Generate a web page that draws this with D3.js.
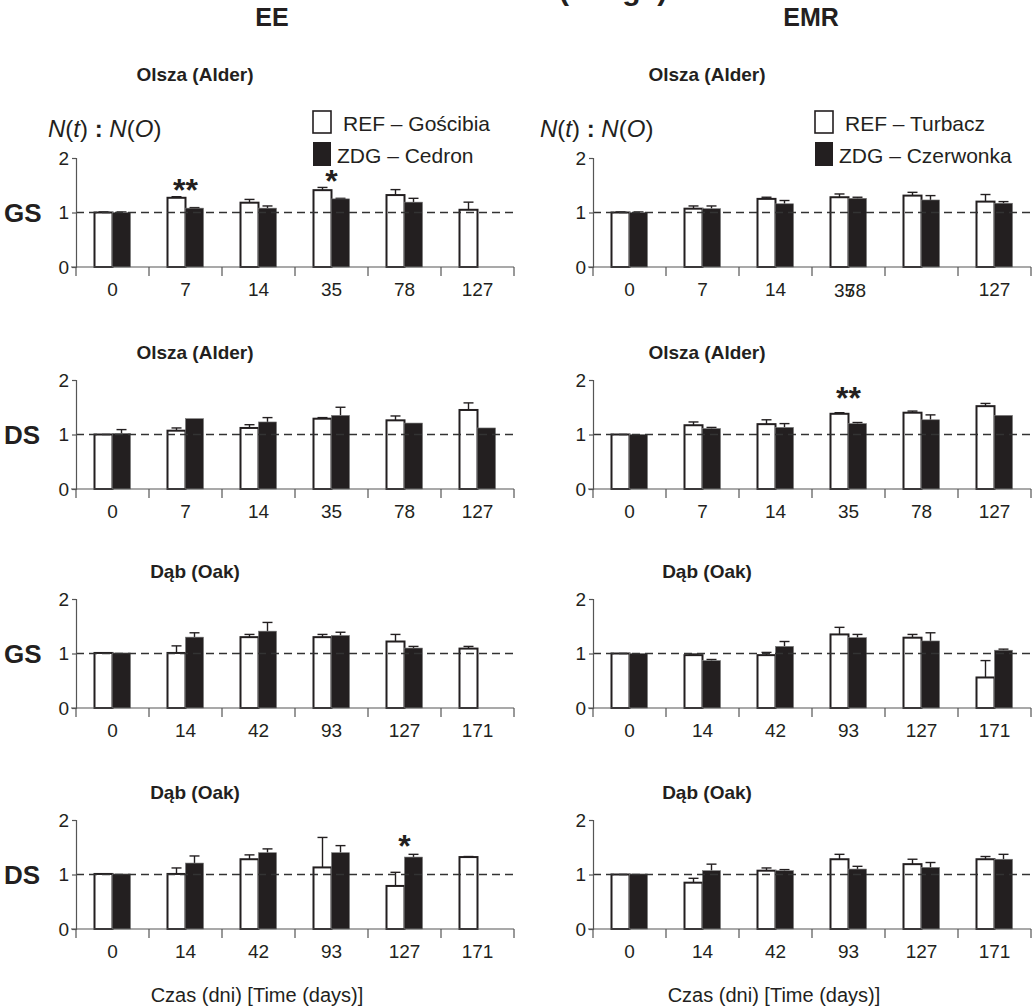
<!DOCTYPE html>
<html><head><meta charset="utf-8">
<script src="https://cdn.jsdelivr.net/npm/d3@7/dist/d3.min.js"></script>
<style>
body{margin:0;background:#fff;}
svg{display:block;font-family:"Liberation Sans",Arial,Helvetica,sans-serif;}
</style></head><body>
<svg id="chart" width="1032" height="1008"></svg>
<script>
// ---------- data ----------
const daysAlder = ["0", "7", "14", "35", "78", "127"];
const daysOak   = ["0", "14", "42", "93", "127", "171"];
const columnTitles = ["EE", "EMR"];
const rowLabels = ["GS", "DS", "GS", "DS"];
const rowTitles = ["Olsza (Alder)", "Olsza (Alder)", "Dąb (Oak)", "Dąb (Oak)"];
const legendEE  = ["REF – Gościbia", "ZDG – Cedron"];
const legendEMR = ["REF – Turbacz", "ZDG – Czerwonka"];
const yTicks = [0, 1, 2];

// EE, GS, Olsza
const eeGsAlderRef    = [1.00, 1.27, 1.18, 1.41, 1.32, 1.05];
const eeGsAlderRefErr = [0.01, 0.02, 0.06, 0.05, 0.10, 0.14];
const eeGsAlderZdg    = [1.00, 1.08, 1.08, 1.25, 1.19, null];
const eeGsAlderZdgErr = [0.01, 0.01, 0.04, 0.01, 0.07, null];
// EMR, GS, Olsza
const emrGsAlderRef    = [1.00, 1.07, 1.25, 1.28, 1.31, 1.20];
const emrGsAlderRefErr = [0.01, 0.05, 0.03, 0.06, 0.06, 0.13];
const emrGsAlderZdg    = [1.00, 1.07, 1.16, 1.26, 1.23, 1.17];
const emrGsAlderZdgErr = [0.01, 0.05, 0.06, 0.02, 0.08, 0.03];
// EE, DS, Olsza
const eeDsAlderRef    = [1.00, 1.07, 1.12, 1.29, 1.26, 1.45];
const eeDsAlderRefErr = [0.00, 0.05, 0.06, 0.02, 0.08, 0.13];
const eeDsAlderZdg    = [1.02, 1.29, 1.23, 1.35, 1.21, 1.12];
const eeDsAlderZdgErr = [0.07, 0.00, 0.08, 0.15, 0.00, 0.00];
// EMR, DS, Olsza
const emrDsAlderRef    = [1.00, 1.17, 1.19, 1.38, 1.40, 1.52];
const emrDsAlderRefErr = [0.00, 0.06, 0.08, 0.02, 0.03, 0.05];
const emrDsAlderZdg    = [1.00, 1.11, 1.13, 1.20, 1.27, 1.35];
const emrDsAlderZdgErr = [0.00, 0.02, 0.07, 0.02, 0.09, 0.00];
// EE, GS, Dąb
const eeGsOakRef    = [1.01, 1.01, 1.30, 1.30, 1.22, 1.09];
const eeGsOakRefErr = [0.00, 0.13, 0.05, 0.05, 0.13, 0.04];
const eeGsOakZdg    = [1.01, 1.30, 1.41, 1.33, 1.10, null];
const eeGsOakZdgErr = [0.00, 0.08, 0.16, 0.06, 0.03, null];
// EMR, GS, Dąb
const emrGsOakRef    = [1.00, 0.97, 0.97, 1.35, 1.29, 0.56];
const emrGsOakRefErr = [0.00, 0.02, 0.05, 0.13, 0.06, 0.31];
const emrGsOakZdg    = [1.00, 0.87, 1.13, 1.29, 1.23, 1.06];
const emrGsOakZdgErr = [0.00, 0.02, 0.09, 0.06, 0.15, 0.02];
// EE, DS, Dąb
const eeDsOakRef    = [1.01, 1.01, 1.28, 1.13, 0.79, 1.32];
const eeDsOakRefErr = [0.00, 0.11, 0.08, 0.55, 0.25, 0.01];
const eeDsOakZdg    = [1.01, 1.21, 1.40, 1.40, 1.32, null];
const eeDsOakZdgErr = [0.00, 0.13, 0.07, 0.13, 0.05, null];
// EMR, DS, Dąb
const emrDsOakRef    = [1.00, 0.85, 1.07, 1.28, 1.19, 1.28];
const emrDsOakRefErr = [0.00, 0.08, 0.05, 0.09, 0.09, 0.05];
const emrDsOakZdg    = [1.01, 1.07, 1.07, 1.10, 1.13, 1.28];
const emrDsOakZdgErr = [0.00, 0.12, 0.02, 0.05, 0.09, 0.09];

// significance marks: panel, category index, text, level (data units, bottom of mark)
const stars = [
  {col: 0, row: 0, cat: 1, text: "**", level: 1.47},
  {col: 0, row: 0, cat: 3, text: "*",  level: 1.63},
  {col: 1, row: 1, cat: 3, text: "**", level: 1.72},
  {col: 0, row: 3, cat: 4, text: "*",  level: 1.58}
];

const panels = [
  {col: 0, row: 0, cats: daysAlder, ref: eeGsAlderRef, refErr: eeGsAlderRefErr, zdg: eeGsAlderZdg, zdgErr: eeGsAlderZdgErr, legend: legendEE},
  {col: 1, row: 0, cats: daysAlder, ref: emrGsAlderRef, refErr: emrGsAlderRefErr, zdg: emrGsAlderZdg, zdgErr: emrGsAlderZdgErr, legend: legendEMR, overlap: true},
  {col: 0, row: 1, cats: daysAlder, ref: eeDsAlderRef, refErr: eeDsAlderRefErr, zdg: eeDsAlderZdg, zdgErr: eeDsAlderZdgErr},
  {col: 1, row: 1, cats: daysAlder, ref: emrDsAlderRef, refErr: emrDsAlderRefErr, zdg: emrDsAlderZdg, zdgErr: emrDsAlderZdgErr},
  {col: 0, row: 2, cats: daysOak, ref: eeGsOakRef, refErr: eeGsOakRefErr, zdg: eeGsOakZdg, zdgErr: eeGsOakZdgErr},
  {col: 1, row: 2, cats: daysOak, ref: emrGsOakRef, refErr: emrGsOakRefErr, zdg: emrGsOakZdg, zdgErr: emrGsOakZdgErr},
  {col: 0, row: 3, cats: daysOak, ref: eeDsOakRef, refErr: eeDsOakRefErr, zdg: eeDsOakZdg, zdgErr: eeDsOakZdgErr},
  {col: 1, row: 3, cats: daysOak, ref: emrDsOakRef, refErr: emrDsOakRefErr, zdg: emrDsOakZdg, zdgErr: emrDsOakZdgErr}
];

// ---------- layout ----------
const svg = d3.select("#chart");
const INK = "#231f20";
const AXIS = "#555";
const colX = [76, 593];
const plotW = 438;
const rowY0 = [267, 489, 708, 929];
const plotH = 109;
const barW = 18;
const titleCX = [195, 707];
const colTitleCX = [272, 811];

// partially visible figure title at the top edge (only descenders show)
svg.append("text").attr("x", 559).attr("y", 0)
  .attr("font-weight", "bold").attr("font-size", 30)
  .attr("fill", INK).style("white-space", "pre").text("(ttl   g  )");

columnTitles.forEach((t, c) => {
  svg.append("text").attr("x", colTitleCX[c]).attr("y", 26)
    .attr("text-anchor", "middle").attr("font-weight", "bold").attr("font-size", 25)
    .attr("fill", INK).text(t);
});

panels.forEach(p => {
  const x0 = colX[p.col], y0 = rowY0[p.row];
  const g = svg.append("g");
  const x = d3.scaleBand().domain(d3.range(p.cats.length)).range([x0, x0 + plotW]);
  const y = d3.scaleLinear().domain([0, 2]).range([y0, y0 - plotH]);

  // panel title
  g.append("text").attr("x", titleCX[p.col]).attr("y", p.row === 0 ? 81 : y0 - plotH - 21)
    .attr("text-anchor", "middle").attr("font-weight", "bold").attr("font-size", 19)
    .attr("fill", INK).text(rowTitles[p.row]);

  // row label
  if (p.col === 0) {
    g.append("text").attr("x", 4).attr("y", y(1) + 9)
      .attr("font-weight", "bold").attr("font-size", 26).attr("fill", INK).text(rowLabels[p.row]);
  }

  const cx = i => x(i) + x.bandwidth() / 2;
  const refIdx = d3.range(p.cats.length).filter(i => p.ref[i] != null);
  const zdgIdx = d3.range(p.cats.length).filter(i => p.zdg[i] != null);

  // error bars (upper half only)
  const errG = g.append("g").attr("stroke", INK).attr("stroke-width", 1.4);
  function errBars(idx, vals, errs, off) {
    idx.filter(i => errs[i] > 0).forEach(i => {
      const xc = cx(i) + off;
      errG.append("line").attr("x1", xc).attr("x2", xc).attr("y1", y(vals[i])).attr("y2", y(vals[i] + errs[i]));
      errG.append("line").attr("x1", xc - 5).attr("x2", xc + 5).attr("y1", y(vals[i] + errs[i])).attr("y2", y(vals[i] + errs[i]));
    });
  }
  errBars(refIdx, p.ref, p.refErr, -barW / 2);
  errBars(zdgIdx, p.zdg, p.zdgErr, barW / 2);

  g.selectAll(".ref").data(refIdx).join("rect")
    .attr("x", i => cx(i) - barW).attr("width", barW)
    .attr("y", i => y(p.ref[i])).attr("height", i => y(0) - y(p.ref[i]))
    .attr("fill", "#fff").attr("stroke", INK).attr("stroke-width", 2);
  g.selectAll(".zdg").data(zdgIdx).join("rect")
    .attr("x", i => cx(i)).attr("width", barW)
    .attr("y", i => y(p.zdg[i])).attr("height", i => y(0) - y(p.zdg[i]))
    .attr("fill", INK).attr("stroke", "#777").attr("stroke-width", 0.6);

  // reference line at 1
  g.append("line").attr("x1", x0).attr("x2", x0 + plotW).attr("y1", y(1)).attr("y2", y(1))
    .attr("stroke", "#333").attr("stroke-width", 1.3).attr("stroke-dasharray", "8,5");

  // y axis
  const ya = g.append("g").attr("transform", `translate(${x0},0)`)
    .call(d3.axisLeft(y).tickValues(yTicks).tickSize(4).tickPadding(3).tickFormat(d3.format("d")));
  ya.select(".domain").attr("stroke", AXIS).attr("stroke-width", 1.2);
  ya.selectAll(".tick line").attr("stroke", AXIS).attr("stroke-width", 1.2);
  ya.selectAll(".tick text").attr("font-size", 19).attr("fill", INK).attr("font-family", null);

  // x axis: line + boundary ticks + labels
  g.append("line").attr("x1", x0 - 5).attr("x2", x0 + plotW).attr("y1", y0).attr("y2", y0)
    .attr("stroke", AXIS).attr("stroke-width", 1.2);
  const bounds = d3.range(p.cats.length + 1).map(i => i < p.cats.length ? x(i) : x0 + plotW);
  g.selectAll(".bt").data(bounds).join("line")
    .attr("x1", d => d).attr("x2", d => d).attr("y1", y0).attr("y2", y0 + 9)
    .attr("stroke", AXIS).attr("stroke-width", 1.2);
  const xa = g.append("g").attr("transform", `translate(0,${y0})`)
    .call(d3.axisBottom(x).tickSize(0).tickPadding(16)
      .tickFormat(i => (p.overlap && (i === 3 || i === 4)) ? "" : p.cats[i]));
  xa.select(".domain").remove();
  xa.selectAll(".tick text").attr("font-size", 19).attr("fill", INK).attr("font-family", null);
  if (p.overlap) {
    // labels "35" and "78" are printed on top of each other in the original
    g.append("text").attr("x", cx(3) - 4).attr("y", y0 + 30).attr("text-anchor", "middle")
      .attr("font-size", 19).attr("fill", INK).text(p.cats[3]);
    g.append("text").attr("x", cx(3) + 7).attr("y", y0 + 30).attr("text-anchor", "middle")
      .attr("font-size", 19).attr("fill", INK).text(p.cats[4]);
  }

  // y label + legend on the top row
  if (p.legend) {
    const t = g.append("text").attr("x", p.col === 0 ? 48 : 540).attr("y", 137)
      .attr("font-size", 24).attr("fill", INK);
    t.append("tspan").attr("font-style", "italic").text("N");
    t.append("tspan").text("(");
    t.append("tspan").attr("font-style", "italic").text("t");
    t.append("tspan").text(") ");
    t.append("tspan").attr("font-weight", "bold").text(":");
    t.append("tspan").text(" ");
    t.append("tspan").attr("font-style", "italic").text("N");
    t.append("tspan").text("(");
    t.append("tspan").attr("font-style", "italic").text("O");
    t.append("tspan").text(")");

    const bx = p.col === 0 ? 313 : 815;
    g.append("rect").attr("x", bx).attr("y", 111).attr("width", 18).attr("height", 22)
      .attr("fill", "#fff").attr("stroke", INK).attr("stroke-width", 1.6);
    g.append("rect").attr("x", bx).attr("y", 142).attr("width", 18).attr("height", 24)
      .attr("fill", INK);
    g.append("text").attr("x", bx + 30).attr("y", 131).attr("font-size", 21).attr("fill", INK).text(p.legend[0]);
    g.append("text").attr("x", bx + 24).attr("y", 163).attr("font-size", 21).attr("fill", INK).text(p.legend[1]);
  }

  // x axis title on bottom row
  if (p.row === 3) {
    g.append("text").attr("x", x0 + 181).attr("y", 1002).attr("text-anchor", "middle")
      .attr("font-size", 20).attr("fill", INK).text("Czas (dni) [Time (days)]");
  }

  // significance stars
  stars.filter(s => s.col === p.col && s.row === p.row).forEach(s => {
    g.append("text").attr("x", cx(s.cat)).attr("y", y(s.level) + 14)
      .attr("text-anchor", "middle").attr("font-size", 32).attr("font-weight", "bold")
      .attr("fill", INK).text(s.text);
  });
});
</script>
</body></html>
